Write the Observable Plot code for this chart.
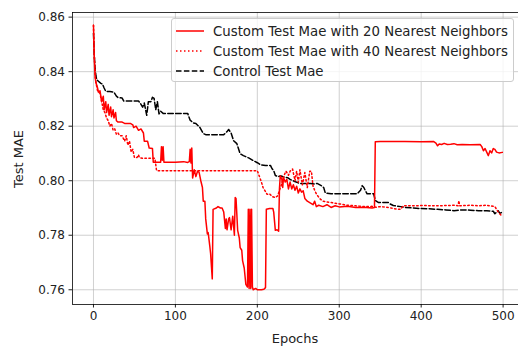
<!DOCTYPE html>
<html>
<head>
<meta charset="utf-8">
<script src="https://cdn.jsdelivr.net/npm/d3@7"></script>
<script src="https://cdn.jsdelivr.net/npm/@observablehq/plot@0.6"></script>
<style>
  html, body { margin: 0; padding: 0; background: #fff; }
  #wrap { position: relative; width: 518px; height: 347px; font-family: "DejaVu Sans", sans-serif; }
  #legend { position: absolute; left: 171px; top: 18px; width: 343px; height: 64px;
    border: 1px solid #cccccc; border-radius: 3px; background: rgba(255,255,255,0.8); box-sizing: border-box; }
  .row { position: absolute; left: 3px; height: 20px; display: flex; align-items: center; font-size: 13.3px; color: #222; white-space: nowrap; }
  .row svg { width: 30px; height: 10px; margin-right: 8px; }
  .axlabel { position: absolute; font-size: 13px; color: #222; white-space: nowrap; line-height: 1; }
</style>
</head>
<body>
<div id="wrap"></div>
<script>
// ---- data ----
const seriesNames = ["Custom Test Mae with 20 Nearest Neighbors", "Custom Test Mae with 40 Nearest Neighbors", "Control Test Mae"];
const xLabel = "Epochs";
const yLabel = "Test MAE";
const xTicks = [0, 100, 200, 300, 400, 500];
const yTicks = [0.76, 0.78, 0.80, 0.82, 0.84, 0.86];

const epochs20 = [0,1,2,3,5,6,8,10,12,13,15,16,18,19,21,22,24,25,27,28,30,35,38,45,48,49,52,55,58,61,62,66,68,72,73,80,82,83,84,85,86,100,110,115,117,118,119,120,121,123,125,127,129,131,133,134,136,137,139,140,142,143,145,146,150,152,155,157,159,161,162,163,165,166,168,170,172,173,174,176,178,179,181,182,184,186,188,189,190,191,192,193,194,195,198,200,205,208,210,211,215,219,220,222,224,226,227,228,230,231,232,234,236,238,240,242,244,246,248,250,252,254,256,258,261,265,268,270,272,275,280,285,290,295,300,310,320,330,340,343,344,350,380,400,415,418,420,422,425,428,432,436,440,444,450,460,472,474,476,478,480,482,484,486,488,490,492,495,499];
const mae20 = [0.857,0.845,0.838,0.836,0.834,0.8325,0.833,0.829,0.831,0.826,0.829,0.825,0.828,0.824,0.827,0.8235,0.826,0.823,0.825,0.822,0.8215,0.8215,0.821,0.821,0.8205,0.8195,0.820,0.8185,0.819,0.8175,0.8145,0.8145,0.812,0.8118,0.8068,0.8068,0.8068,0.8125,0.8075,0.8125,0.8068,0.8068,0.807,0.8067,0.807,0.8115,0.8065,0.812,0.801,0.804,0.8015,0.8035,0.803,0.800,0.7975,0.7925,0.7925,0.786,0.7805,0.781,0.776,0.7732,0.764,0.7895,0.790,0.7905,0.790,0.790,0.7885,0.7825,0.786,0.782,0.786,0.7865,0.782,0.787,0.780,0.7938,0.7935,0.7818,0.779,0.7755,0.7745,0.7707,0.768,0.762,0.761,0.7895,0.7605,0.7895,0.7605,0.7895,0.761,0.760,0.7605,0.7600,0.7600,0.7602,0.7608,0.7895,0.7898,0.7898,0.7885,0.7818,0.782,0.7815,0.797,0.8018,0.8005,0.7975,0.8012,0.7995,0.8005,0.797,0.7995,0.797,0.7985,0.7965,0.798,0.7955,0.797,0.7958,0.7963,0.7935,0.7925,0.7918,0.7912,0.7925,0.7905,0.791,0.7905,0.7912,0.7902,0.7908,0.7904,0.7906,0.7902,0.7903,0.790,0.7902,0.8143,0.8144,0.8144,0.8143,0.8144,0.8138,0.8128,0.8135,0.8133,0.8137,0.8133,0.8134,0.8136,0.8132,0.8133,0.8132,0.8133,0.8125,0.811,0.8118,0.8105,0.8092,0.811,0.8102,0.8118,0.8115,0.8105,0.8102,0.8104];

const epochs40 = [0,1,2,3,5,8,10,12,14,16,18,20,22,24,26,28,30,32,35,38,40,42,44,46,48,50,53,55,56,60,72,75,77,100,150,200,202,205,207,210,212,215,218,222,225,227,230,232,235,238,240,243,246,248,250,252,255,258,261,264,266,268,270,272,276,280,290,300,310,320,330,340,345,350,360,370,375,378,390,400,420,440,445,446,447,460,470,480,490,494,497,499];
const mae40 = [0.857,0.846,0.839,0.836,0.833,0.832,0.829,0.826,0.825,0.823,0.822,0.820,0.821,0.8185,0.819,0.817,0.8175,0.8165,0.8165,0.8145,0.8165,0.813,0.8145,0.8105,0.8115,0.8085,0.8085,0.8095,0.8085,0.8082,0.8082,0.8082,0.8037,0.8037,0.8037,0.8037,0.802,0.7995,0.7975,0.796,0.795,0.7952,0.7942,0.7938,0.7945,0.7965,0.799,0.8015,0.8035,0.802,0.8035,0.8043,0.800,0.8035,0.7995,0.804,0.7985,0.803,0.7975,0.8035,0.8035,0.798,0.7965,0.7952,0.7935,0.7925,0.792,0.7915,0.791,0.7908,0.7905,0.7906,0.7903,0.7905,0.7902,0.7896,0.7895,0.7908,0.7908,0.7909,0.7908,0.791,0.7908,0.7927,0.7908,0.791,0.7908,0.791,0.7905,0.7885,0.7875,0.787];

const epochsCtl = [0,1,2,3,4,6,9,11,13,15,20,25,28,30,35,37,55,57,60,62,65,67,70,72,74,76,78,80,82,85,100,115,118,122,125,130,134,137,150,159,163,165,168,171,175,179,183,190,195,200,204,210,216,218,220,222,226,228,233,237,240,245,250,253,260,265,270,273,278,281,283,290,301,310,322,326,328,330,332,334,342,344,348,360,362,366,375,380,390,399,410,420,430,440,450,460,470,480,488,490,492,494,496,499];
const maeCtl = [0.854,0.846,0.841,0.8385,0.837,0.8365,0.8357,0.8355,0.834,0.8328,0.8327,0.8325,0.831,0.8305,0.8303,0.8292,0.8292,0.8285,0.827,0.8285,0.824,0.829,0.829,0.8306,0.8302,0.826,0.829,0.8245,0.8255,0.8247,0.8247,0.8247,0.8222,0.8212,0.821,0.8195,0.8173,0.8169,0.8169,0.8169,0.818,0.8188,0.8175,0.8147,0.8136,0.8099,0.8092,0.8083,0.8074,0.8066,0.8058,0.8056,0.8056,0.8044,0.8037,0.8019,0.8015,0.8018,0.8013,0.8011,0.8005,0.7998,0.7992,0.799,0.799,0.799,0.7988,0.799,0.7982,0.7975,0.7955,0.7952,0.7952,0.7952,0.7952,0.7965,0.7982,0.7975,0.7963,0.7952,0.7952,0.7928,0.792,0.792,0.7915,0.7909,0.7905,0.7902,0.790,0.7898,0.7897,0.7895,0.7893,0.789,0.7893,0.7892,0.789,0.789,0.7888,0.7879,0.7885,0.789,0.788,0.7885];

// ---- build ----
const toRows = (ep, v) => ep.map((e, i) => ({epoch: e, mae: v[i]}));
const d20 = toRows(epochs20, mae20);
const d40 = toRows(epochs40, mae40);
const dCtl = toRows(epochsCtl, maeCtl);

const xDomain = [-25.6, 518.8];
const yDomain = [0.7546, 0.8617];
const font = "DejaVu Sans";

const chart = Plot.plot({
  width: 518,
  height: 347,
  marginLeft: 72,
  marginRight: 0,
  marginTop: 12,
  marginBottom: 43,
  style: {fontFamily: font, fontSize: "12px", color: "#222", background: "#fff", overflow: "hidden"},
  x: {domain: xDomain, ticks: xTicks, tickSize: 3.5, tickPadding: 3, tickFormat: d3.format("d"), label: null},
  y: {domain: yDomain, ticks: yTicks, tickSize: 3.5, tickPadding: 4, tickFormat: d3.format(".2f"), label: null},
  marks: [
    Plot.ruleX(xTicks, {stroke: "#b0b0b0", strokeOpacity: 0.75, strokeWidth: 0.8}),
    Plot.ruleY(yTicks, {stroke: "#b0b0b0", strokeOpacity: 0.75, strokeWidth: 0.8}),
    Plot.line(dCtl, {x: "epoch", y: "mae", stroke: "#000", strokeWidth: 1.5, strokeDasharray: "5.5,2.4", clip: true}),
    Plot.line(d40, {x: "epoch", y: "mae", stroke: "#ff0000", strokeWidth: 1.5, strokeDasharray: "1.5,2.5", clip: true}),
    Plot.line(d20, {x: "epoch", y: "mae", stroke: "#ff0000", strokeWidth: 1.5, clip: true}),
    Plot.ruleX([xDomain[0]], {stroke: "#000", strokeWidth: 0.8}),
    Plot.ruleY([yDomain[0], yDomain[1]], {stroke: "#000", strokeWidth: 0.8})
  ]
});

const wrap = document.getElementById("wrap");
wrap.appendChild(chart);

// axis labels
const xl = document.createElement("div");
xl.className = "axlabel";
xl.textContent = xLabel;
xl.style.left = "295px"; xl.style.top = "338px";
xl.style.transform = "translate(-50%, -50%)";
wrap.appendChild(xl);
const yl = document.createElement("div");
yl.className = "axlabel";
yl.textContent = yLabel;
yl.style.left = "18px"; yl.style.top = "159px";
yl.style.transform = "translate(-50%, -50%) rotate(-90deg)";
wrap.appendChild(yl);

// legend overlay
const legend = document.createElement("div");
legend.id = "legend";
const styles = [
  {stroke: "#ff0000", dash: null},
  {stroke: "#ff0000", dash: "1.5,2.5"},
  {stroke: "#000", dash: "5.5,2.4"}
];
seriesNames.forEach((name, i) => {
  const row = document.createElement("div");
  row.className = "row";
  row.style.top = (2 + i * 20) + "px";
  const s = styles[i];
  row.innerHTML = `<svg viewBox="0 0 30 10"><line x1="1" y1="5" x2="29" y2="5" stroke="${s.stroke}" stroke-width="1.5" ${s.dash ? `stroke-dasharray="${s.dash}"` : ""}/></svg><span>${name}</span>`;
  legend.appendChild(row);
});
wrap.appendChild(legend);
</script>
</body>
</html>
